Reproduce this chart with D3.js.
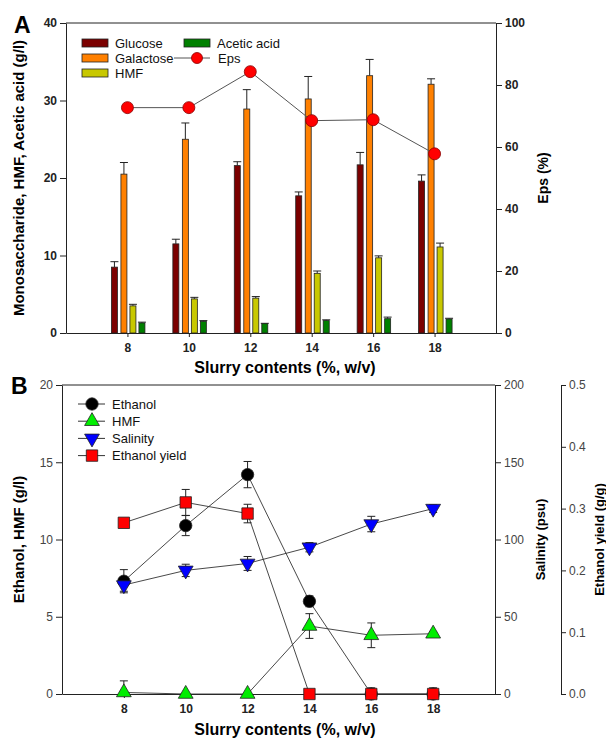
<!DOCTYPE html>
<html>
<head>
<meta charset="utf-8">
<script src="https://cdn.jsdelivr.net/npm/d3@7"></script>
<style>
  body { margin: 0; background: #fff; }
  text { font-family: Arial, "Liberation Sans", sans-serif; }
</style>
</head>
<body>
<div id="chart"></div>
<script>
var W = 606, H = 738;

// data
var slurry = [8, 10, 12, 14, 16, 18];
var slurryTicks = [8, 10, 12, 14, 16, 18];

var glucose      = [8.5, 11.5, 21.6, 17.7, 21.7, 19.6];
var glucoseErr   = [0.7, 0.6, 0.5, 0.5, 1.6, 0.8];
var galactose    = [20.5, 25.0, 28.9, 30.2, 33.2, 32.1];
var galactoseErr = [1.5, 2.1, 2.5, 2.9, 2.1, 0.7];
var hmfA         = [3.5, 4.4, 4.5, 7.7, 9.7, 11.1];
var hmfAErr      = [0.2, 0.2, 0.2, 0.3, 0.25, 0.5];
var acetic       = [1.3, 1.5, 1.2, 1.6, 1.85, 1.8];
var aceticErr    = [0.1, 0.1, 0.05, 0.1, 0.2, 0.1];
var eps          = [72.7, 72.7, 84.3, 68.5, 68.8, 57.8];

var ethanol      = [7.3, 10.9, 14.2, 6.0, 0, 0];
var ethanolErr   = [0.75, 0.65, 0.85, 0.35, 0.3, 0];
var hmfB         = [0.1, 0, 0, 4.4, 3.8, 3.9];
var hmfBErr      = [0.75, 0, 0, 0.8, 0.8, 0.1];
var salinity     = [70.5, 80, 84.5, 95, 110, 120];
var salinityErr  = [4, 4, 4.5, 3, 5, 2.5];
var ethYield     = [0.277, 0.31, 0.292, 0, 0, 0];
var ethYieldErr  = [0.006, 0.021, 0.015, 0, 0.01, 0.01];

var svg = d3.select("#chart").append("svg")
    .attr("width", W)
    .attr("height", H);

function styleAxis(g, bold) {
    g.selectAll("path, line").attr("stroke", "#222").attr("stroke-width", 1);
    g.selectAll("text")
        .attr("fill", bold ? "#222" : "#444")
        .style("font-size", "12px")
        .style("font-weight", bold ? "bold" : "normal");
}

// ---------------- Panel A ----------------
var A = { left: 66, right: 496, top: 23, bottom: 333 };

var xA = d3.scaleLinear().domain([6, 20]).range([A.left, A.right]);
var yA = d3.scaleLinear().domain([0, 40]).range([A.bottom, A.top]);
var yEps = d3.scaleLinear().domain([0, 100]).range([A.bottom, A.top]);

var gA = svg.append("g");

gA.append("line")
    .attr("x1", A.left).attr("x2", A.right)
    .attr("y1", A.top).attr("y2", A.top)
    .attr("stroke", "#222");

gA.append("g")
    .attr("transform", "translate(0," + A.bottom + ")")
    .call(d3.axisBottom(xA).tickValues(slurryTicks).tickSize(4).tickSizeOuter(0))
    .call(styleAxis, true)
    .selectAll("text").attr("dy", "1.0em");

gA.append("g")
    .attr("transform", "translate(" + A.left + ",0)")
    .call(d3.axisLeft(yA).tickValues([0, 10, 20, 30, 40]).tickSize(6).tickSizeOuter(0))
    .call(styleAxis, true);

gA.append("g")
    .attr("transform", "translate(" + A.right + ",0)")
    .call(d3.axisRight(yEps).tickValues([0, 20, 40, 60, 80, 100]).tickSize(6).tickSizeOuter(0))
    .call(styleAxis, true);

var barSeries = [
    { name: "Glucose",     vals: glucose,   err: glucoseErr,   color: "#7b0000", off: -16 },
    { name: "Galactose",   vals: galactose, err: galactoseErr, color: "#ff8000", off: -6.5 },
    { name: "HMF",         vals: hmfA,      err: hmfAErr,      color: "#c8c800", off: 2.5 },
    { name: "Acetic acid", vals: acetic,    err: aceticErr,    color: "#008000", off: 11.5 }
];
var barW = 6;

barSeries.forEach(function(s) {
    var g = gA.append("g");
    // error bars (upper only)
    g.selectAll("line.err")
        .data(slurry)
        .enter().append("line")
        .attr("x1", function(d) { return xA(d) + s.off + barW / 2; })
        .attr("x2", function(d) { return xA(d) + s.off + barW / 2; })
        .attr("y1", function(d, i) { return yA(s.vals[i]); })
        .attr("y2", function(d, i) { return yA(s.vals[i] + s.err[i]); })
        .attr("stroke", "#222");
    g.selectAll("line.cap")
        .data(slurry)
        .enter().append("line")
        .attr("x1", function(d) { return xA(d) + s.off - 1; })
        .attr("x2", function(d) { return xA(d) + s.off + barW + 1; })
        .attr("y1", function(d, i) { return yA(s.vals[i] + s.err[i]); })
        .attr("y2", function(d, i) { return yA(s.vals[i] + s.err[i]); })
        .attr("stroke", "#222");
    g.selectAll("rect")
        .data(slurry)
        .enter().append("rect")
        .attr("x", function(d) { return xA(d) + s.off; })
        .attr("width", barW)
        .attr("y", function(d, i) { return yA(s.vals[i]); })
        .attr("height", function(d, i) { return yA(0) - yA(s.vals[i]); })
        .attr("fill", s.color)
        .attr("stroke", "#222")
        .attr("stroke-width", 0.8);
});

var epsLine = d3.line()
    .x(function(d, i) { return xA(slurry[i]); })
    .y(function(d) { return yEps(d); });

gA.append("path")
    .datum(eps)
    .attr("d", epsLine)
    .attr("fill", "none")
    .attr("stroke", "#555")
    .attr("stroke-width", 1);

gA.selectAll("circle.eps")
    .data(eps)
    .enter().append("circle")
    .attr("cx", function(d, i) { return xA(slurry[i]); })
    .attr("cy", function(d) { return yEps(d); })
    .attr("r", 6)
    .attr("fill", "#ff0000")
    .attr("stroke", "#800")
    .attr("stroke-width", 0.8);

// legend A
var legA = gA.append("g").style("font-size", "13px");
var legItemsA = [
    { name: "Glucose", color: "#7b0000", x: 82, y: 43 },
    { name: "Galactose", color: "#ff8000", x: 82, y: 58 },
    { name: " HMF", color: "#c8c800", x: 82, y: 73 },
    { name: "Acetic acid", color: "#008000", x: 184, y: 43 }
];
legItemsA.forEach(function(d) {
    legA.append("rect")
        .attr("x", d.x).attr("y", d.y - 4)
        .attr("width", 26).attr("height", 8)
        .attr("fill", d.color).attr("stroke", "#222").attr("stroke-width", 0.8);
    legA.append("text")
        .attr("x", d.x + 33).attr("y", d.y)
        .attr("dy", "0.35em")
        .attr("fill", "#111")
        .text(d.name);
});
legA.append("line")
    .attr("x1", 174).attr("x2", 210).attr("y1", 58).attr("y2", 58)
    .attr("stroke", "#555");
legA.append("circle")
    .attr("cx", 197).attr("cy", 58).attr("r", 5.5)
    .attr("fill", "#ff0000").attr("stroke", "#800").attr("stroke-width", 0.8);
legA.append("text")
    .attr("x", 218).attr("y", 58).attr("dy", "0.35em")
    .attr("fill", "#111")
    .text("Eps");

// titles A
gA.append("text")
    .attr("x", 14).attr("y", 33)
    .style("font-size", "23px").style("font-weight", "bold")
    .text("A");
gA.append("text")
    .attr("transform", "translate(24," + ((A.top + A.bottom) / 2) + ") rotate(-90)")
    .attr("text-anchor", "middle")
    .style("font-size", "15px").style("font-weight", "bold")
    .text("Monosaccharide, HMF, Acetic acid (g/l)");
gA.append("text")
    .attr("transform", "translate(548," + ((A.top + A.bottom) / 2) + ") rotate(-90)")
    .attr("text-anchor", "middle")
    .style("font-size", "14px").style("font-weight", "bold")
    .text("Eps (%)");
gA.append("text")
    .attr("x", 285).attr("y", 373)
    .attr("text-anchor", "middle")
    .style("font-size", "16px").style("font-weight", "bold")
    .text("Slurry contents (%, w/v)");

// ---------------- Panel B ----------------
var B = { left: 62, right: 495, top: 385, bottom: 694 };

var xB = d3.scaleLinear().domain([6, 20]).range([B.left, B.right]);
var yB = d3.scaleLinear().domain([0, 20]).range([B.bottom, B.top]);
var ySal = d3.scaleLinear().domain([0, 200]).range([B.bottom, B.top]);
var yYield = d3.scaleLinear().domain([0, 0.5]).range([B.bottom, B.top]);

var gB = svg.append("g");

gB.append("line")
    .attr("x1", B.left).attr("x2", B.right)
    .attr("y1", B.top).attr("y2", B.top)
    .attr("stroke", "#222");

gB.append("g")
    .attr("transform", "translate(0," + B.bottom + ")")
    .call(d3.axisBottom(xB).tickValues(slurryTicks).tickSize(4).tickSizeOuter(0))
    .call(styleAxis, true)
    .selectAll("text").attr("dy", "1.0em");

gB.append("g")
    .attr("transform", "translate(" + B.left + ",0)")
    .call(d3.axisLeft(yB).tickValues([0, 5, 10, 15, 20]).tickSize(6).tickSizeOuter(0))
    .call(styleAxis, false);

gB.append("g")
    .attr("transform", "translate(" + B.right + ",0)")
    .call(d3.axisRight(ySal).tickValues([0, 50, 100, 150, 200]).tickSize(6).tickSizeOuter(0))
    .call(styleAxis, false);

gB.append("g")
    .attr("transform", "translate(561,0)")
    .call(d3.axisRight(yYield).tickValues([0, 0.1, 0.2, 0.3, 0.4, 0.5])
        .tickFormat(d3.format(".1f")).tickSize(5).tickSizeOuter(0))
    .call(styleAxis, false);

var symTri = d3.symbol().type(d3.symbolTriangle).size(95);
var symCircle = d3.symbol().type(d3.symbolCircle).size(120);
var symSquare = d3.symbol().type(d3.symbolSquare).size(130);

var lineSeries = [
    { name: "Ethanol", vals: ethanol, err: ethanolErr, y: yB, color: "#000000", sym: symCircle, rot: 0 },
    { name: "HMF", vals: hmfB, err: hmfBErr, y: yB, color: "#00ee00", sym: symTri, rot: 0 },
    { name: "Salinity", vals: salinity, err: salinityErr, y: ySal, color: "#0000ff", sym: symTri, rot: 180 },
    { name: "Ethanol yield", vals: ethYield, err: ethYieldErr, y: yYield, color: "#ff0000", sym: symSquare, rot: 0 }
];

// lines and error bars first, markers on top
lineSeries.forEach(function(s) {
    var ln = d3.line()
        .x(function(d, i) { return xB(slurry[i]); })
        .y(function(d) { return s.y(d); });
    gB.append("path")
        .datum(s.vals)
        .attr("d", ln)
        .attr("fill", "none")
        .attr("stroke", "#333")
        .attr("stroke-width", 0.9);
});

lineSeries.forEach(function(s) {
    var g = gB.append("g");
    slurry.forEach(function(x, i) {
        if (!s.err[i]) return;
        var cx = xB(x);
        var lo = s.y(Math.max(0, s.vals[i] - s.err[i]));
        var hi = s.y(s.vals[i] + s.err[i]);
        g.append("line").attr("x1", cx).attr("x2", cx).attr("y1", lo).attr("y2", hi).attr("stroke", "#222");
        g.append("line").attr("x1", cx - 4).attr("x2", cx + 4).attr("y1", hi).attr("y2", hi).attr("stroke", "#222");
        g.append("line").attr("x1", cx - 4).attr("x2", cx + 4).attr("y1", lo).attr("y2", lo).attr("stroke", "#222");
    });
});

lineSeries.forEach(function(s) {
    gB.selectAll(null)
        .data(s.vals)
        .enter().append("path")
        .attr("d", s.sym)
        .attr("transform", function(d, i) {
            return "translate(" + xB(slurry[i]) + "," + s.y(d) + ") rotate(" + s.rot + ")";
        })
        .attr("fill", s.color)
        .attr("stroke", "#222")
        .attr("stroke-width", 0.8);
});

// legend B
var legB = gB.append("g").style("font-size", "13px");
lineSeries.forEach(function(s, i) {
    var y = 404 + i * 17.2;
    legB.append("line")
        .attr("x1", 78).attr("x2", 105).attr("y1", y).attr("y2", y)
        .attr("stroke", "#333");
    legB.append("path")
        .attr("d", s.sym)
        .attr("transform", "translate(92," + y + ") rotate(" + s.rot + ")")
        .attr("fill", s.color)
        .attr("stroke", "#222")
        .attr("stroke-width", 0.8);
    legB.append("text")
        .attr("x", 112).attr("y", y).attr("dy", "0.35em")
        .attr("fill", "#111")
        .text(s.name);
});

// titles B
gB.append("text")
    .attr("x", 11).attr("y", 394)
    .style("font-size", "23px").style("font-weight", "bold")
    .text("B");
gB.append("text")
    .attr("transform", "translate(24," + ((B.top + B.bottom) / 2) + ") rotate(-90)")
    .attr("text-anchor", "middle")
    .style("font-size", "15px").style("font-weight", "bold")
    .text("Ethanol, HMF (g/l)");
gB.append("text")
    .attr("transform", "translate(545," + ((B.top + B.bottom) / 2) + ") rotate(-90)")
    .attr("text-anchor", "middle")
    .style("font-size", "13px").style("font-weight", "bold")
    .text("Salinity (psu)");
gB.append("text")
    .attr("transform", "translate(604," + ((B.top + B.bottom) / 2) + ") rotate(-90)")
    .attr("text-anchor", "middle")
    .style("font-size", "13px").style("font-weight", "bold")
    .text("Ethanol yield (g/g)");
gB.append("text")
    .attr("x", 285).attr("y", 735)
    .attr("text-anchor", "middle")
    .style("font-size", "16px").style("font-weight", "bold")
    .text("Slurry contents (%, w/v)");
</script>
</body>
</html>
